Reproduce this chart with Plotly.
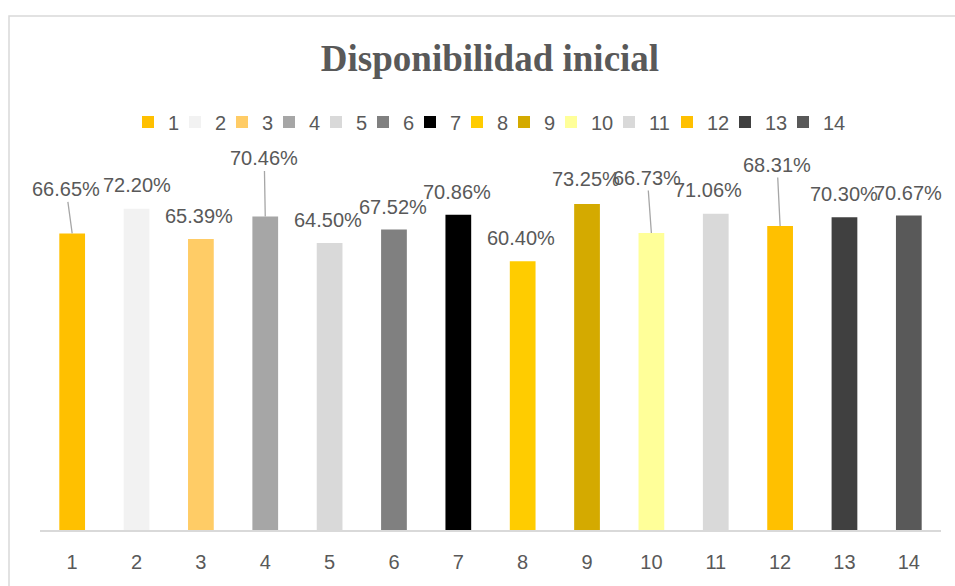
import plotly.graph_objects as go

categories = ["1", "2", "3", "4", "5", "6", "7", "8", "9", "10", "11", "12", "13", "14"]
values = [0.6665, 0.7220, 0.6539, 0.7046, 0.6450, 0.6752, 0.7086,
          0.6040, 0.7325, 0.6673, 0.7106, 0.6831, 0.7030, 0.7067]
colors = ["#FFC000", "#F2F2F2", "#FFCC66", "#A6A6A6", "#D9D9D9", "#808080", "#000000",
          "#FFCC00", "#D4AA00", "#FFFF99", "#D9D9D9", "#FFC000", "#404040", "#595959"]

# label placement (pixel offsets from bar top) and whether a leader line is drawn
label_offsets = [(-6, -44), (0, -24), (-2, -23), (-1, -58), (-2, -23), (-1, -23), (-1, -23),
                 (-2, -23), (-1, -25), (-4, -55), (-8, -24), (-3, -61), (0, -23), (-1, -23)]
leaders = [True, False, False, True, False, False, False,
           False, False, True, False, True, False, False]

TXT = "#595959"
FONT = "Liberation Sans"

fig = go.Figure()
n = len(categories)
for k, (cat, val, col) in enumerate(zip(categories, values, colors)):
    lw = 2 if len(cat) == 1 else 13
    if k == n - 1:
        lw = 30
    fig.add_trace(go.Bar(
        x=[cat], y=[val], name=cat, marker=dict(color=col, line=dict(width=0)),
        width=0.4, legendwidth=lw,
        hoverinfo="skip",
    ))

annotations = []
for i, (val, (ax, ay), lead) in enumerate(zip(values, label_offsets, leaders)):
    annotations.append(dict(
        x=i, y=val, xref="x", yref="y", text=f"{val*100:.2f}%",
        showarrow=True, ax=ax, ay=ay, arrowhead=0, standoff=0, startstandoff=0,
        arrowwidth=1.3, arrowcolor="#A6A6A6" if lead else "rgba(0,0,0,0)",
        font=dict(family=FONT, size=20, color=TXT),
    ))

fig.update_layout(
    width=955, height=586, autosize=False,
    paper_bgcolor="white", plot_bgcolor="white",
    margin=dict(l=40, r=14, t=174, b=56),
    barmode="overlay",
    title=dict(text="<b>Disponibilidad inicial</b>", x=490/955, xref="container", xanchor="center",
               y=1 - 58/586, yref="container", yanchor="middle",
               font=dict(family="Liberation Serif", size=37, color=TXT)),
    showlegend=True,
    legend=dict(orientation="h", xref="container", yref="container",
                x=128/955, xanchor="left", y=1 - 122/586, yanchor="middle",
                font=dict(family=FONT, size=20, color=TXT), itemwidth=30,
                bgcolor="rgba(0,0,0,0)", traceorder="normal"),
    xaxis=dict(type="category", range=[-0.5, 13.5], showgrid=False, showline=True,
               linecolor="#D9D9D9", linewidth=1.5,
               ticks="", tickfont=dict(family=FONT, size=20, color=TXT), ticklabelstandoff=13,
               zeroline=False, fixedrange=True),
    yaxis=dict(range=[0, 0.8], visible=False, showgrid=False, zeroline=False, fixedrange=True),
    annotations=annotations,
    shapes=[dict(type="rect", xref="paper", yref="paper",
                 x0=(9 - 40) / 901, x1=1.1, y0=-0.3, y1=(530 - 16) / 356,
                 line=dict(color="#D9D9D9", width=1.5), fillcolor="rgba(0,0,0,0)", layer="below")],
)

fig.write_html("out.html", config={"displayModeBar": False},
               post_script="document.body.style.margin='0';")
